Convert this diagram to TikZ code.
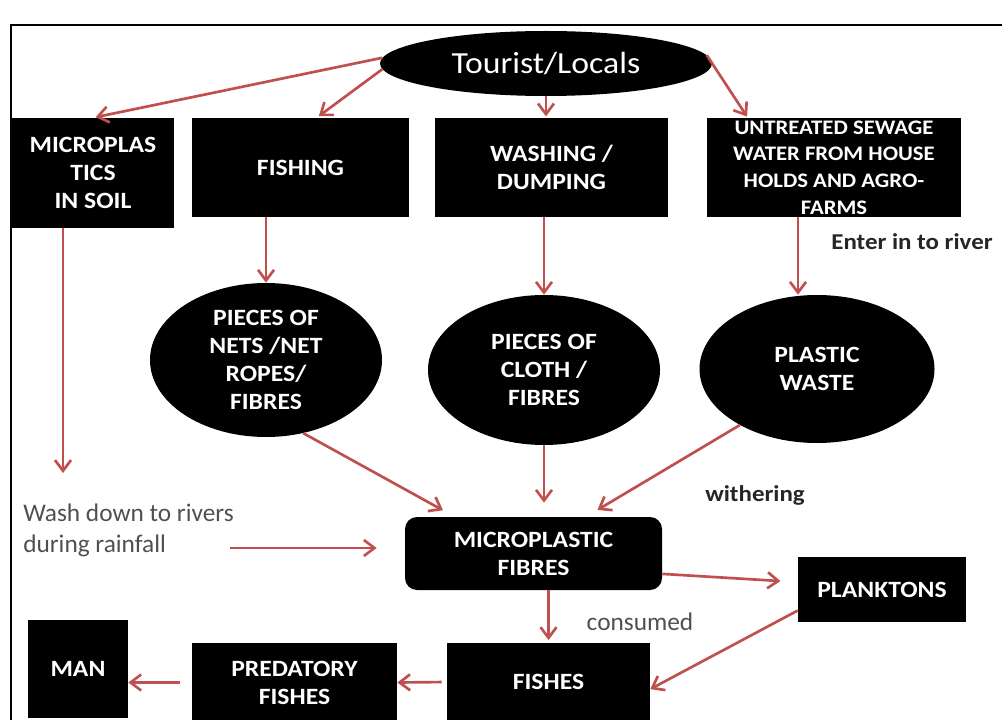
\documentclass[tikz,border=0pt]{standalone}
\usepackage{fontspec}
\setmainfont{Carlito}[FakeStretch=1.1]
\newfontfamily\plainfont{Carlito}
\usetikzlibrary{shapes.geometric,arrows.meta}
\definecolor{flowred}{RGB}{192,80,77}
\definecolor{labelgray}{RGB}{80,80,80}
\tikzset{
  box/.style={fill=black,text=white,inner sep=0pt,align=center,
    font=\fontsize{17.5}{21}\selectfont\bfseries},
  oval/.style={box,ellipse},
  flow/.style={draw=flowred,line width=2pt,-{Straight Barb[length=8pt,width=12pt]}},
  note/.style={font=\fontsize{17}{20}\selectfont\bfseries,text=black!85},
  thin note/.style={font=\plainfont\fontsize{19}{23.25}\selectfont,text=labelgray}
}
\begin{document}
\begin{tikzpicture}[x=0.75pt,y=-0.75pt]
  \useasboundingbox (0,0) rectangle (1002,720);
  % Frame
  \draw[line width=1.2pt] (11,720) -- (11,25) -- (1002,25);

  % Source
  \node[oval,minimum width=249pt,minimum height=48.75pt,font=\fontsize{23}{27}\selectfont] (tl) at (546,63.5) {Tourist/Locals};

  % Activities
  \node[box,minimum width=121.5pt,minimum height=82.5pt] (soil) at (93,173) {MICROPLAS\\TICS\\IN SOIL};
  \node[box,minimum width=162.75pt,minimum height=74.25pt] (fish) at (300.5,167.5) {FISHING};
  \node[box,minimum width=174.75pt,minimum height=74.25pt] (wash) at (551.5,167.5) {WASHING /\\DUMPING};
  \node[box,minimum width=190.5pt,minimum height=74.25pt,font=\fontsize{15.5}{20}\selectfont\bfseries] (sew) at (834,167.5) {UNTREATED SEWAGE\\WATER FROM HOUSE\\HOLDS AND AGRO-\\FARMS};
  \node[note] (enter) at (912,242) {Enter in to river};

  % Debris
  \node[oval,minimum width=174pt,minimum height=115.5pt] (nets) at (266,360) {PIECES OF\\NETS /NET\\ROPES/\\FIBRES};
  \node[oval,minimum width=174pt,minimum height=112.5pt] (cloth) at (544,370) {PIECES OF\\CLOTH /\\FIBRES};
  \node[oval,minimum width=176.25pt,minimum height=111pt] (waste) at (817,369) {PLASTIC\\WASTE};

  % Microplastics and food chain
  \node[note] (wither) at (755,495) {withering};
  \node[thin note,align=left,anchor=west,inner sep=0pt] (rain) at (23,530) {Wash down to rivers\\during rainfall};
  \node[box,rounded corners=9pt,minimum width=192.75pt,minimum height=54.75pt] (mf) at (533.5,553.5) {MICROPLASTIC\\FIBRES};
  \node[box,minimum width=126pt,minimum height=48.75pt] (plank) at (882,589.5) {PLANKTONS};
  \node[thin note] (cons) at (640,622) {consumed};
  \node[box,minimum width=152.25pt,minimum height=58.5pt] (fishes) at (548.5,682) {FISHES};
  \node[box,minimum width=153.75pt,minimum height=59.25pt] (pred) at (294.5,682.5) {PREDATORY\\FISHES};
  \node[box,minimum width=75pt,minimum height=73.5pt] (man) at (78,669) {MAN};

  % Connectors
  \coordinate (soilend) at (63,473);
  \coordinate (rainfrom) at (230,548);
  \draw[flow,shorten >=2pt] (tl.178) -- (soil.north);
  \draw[flow,shorten >=2pt] (tl.182) -- (fish.72);
  \draw[flow,shorten >=1pt] (tl.south) -- (tl.south |- wash.north);
  \draw[flow,shorten >=1pt] (tl.3) -- (sew.150);
  \draw[flow] (nets.north |- fish.south) -- (nets.north);
  \draw[flow] (cloth.north |- wash.south) -- (cloth.north);
  \draw[flow] ([xshift=-14.25pt]waste.north |- sew.south) -- ([xshift=-14.25pt]waste.north);
  \draw[flow] (soilend |- soil.south) -- (soilend);
  \draw[flow,shorten >=10pt] (nets.-63) -- (mf.155);
  \draw[flow,shorten >=10.5pt] (cloth.south) -- (cloth.south |- mf.north);
  \draw[flow,shorten >=10pt] (waste.216) -- (mf.35);
  \draw[flow,shorten >=21pt] (rainfrom) -- (rainfrom -| mf.west);
  \draw[flow,shorten >=13pt] (mf.-9) -- (plank.175);
  \draw[flow,shorten >=2pt] (fishes.north |- mf.south) -- (fishes.north);
  \draw[flow] (plank.194) -- (fishes.-4);
  \draw[flow,shorten <=3.75pt] (fishes.west) -- (pred.east);
  \draw[flow,shorten <=9pt] (pred.west) -- (pred.west -| man.east);
\end{tikzpicture}
\end{document}
